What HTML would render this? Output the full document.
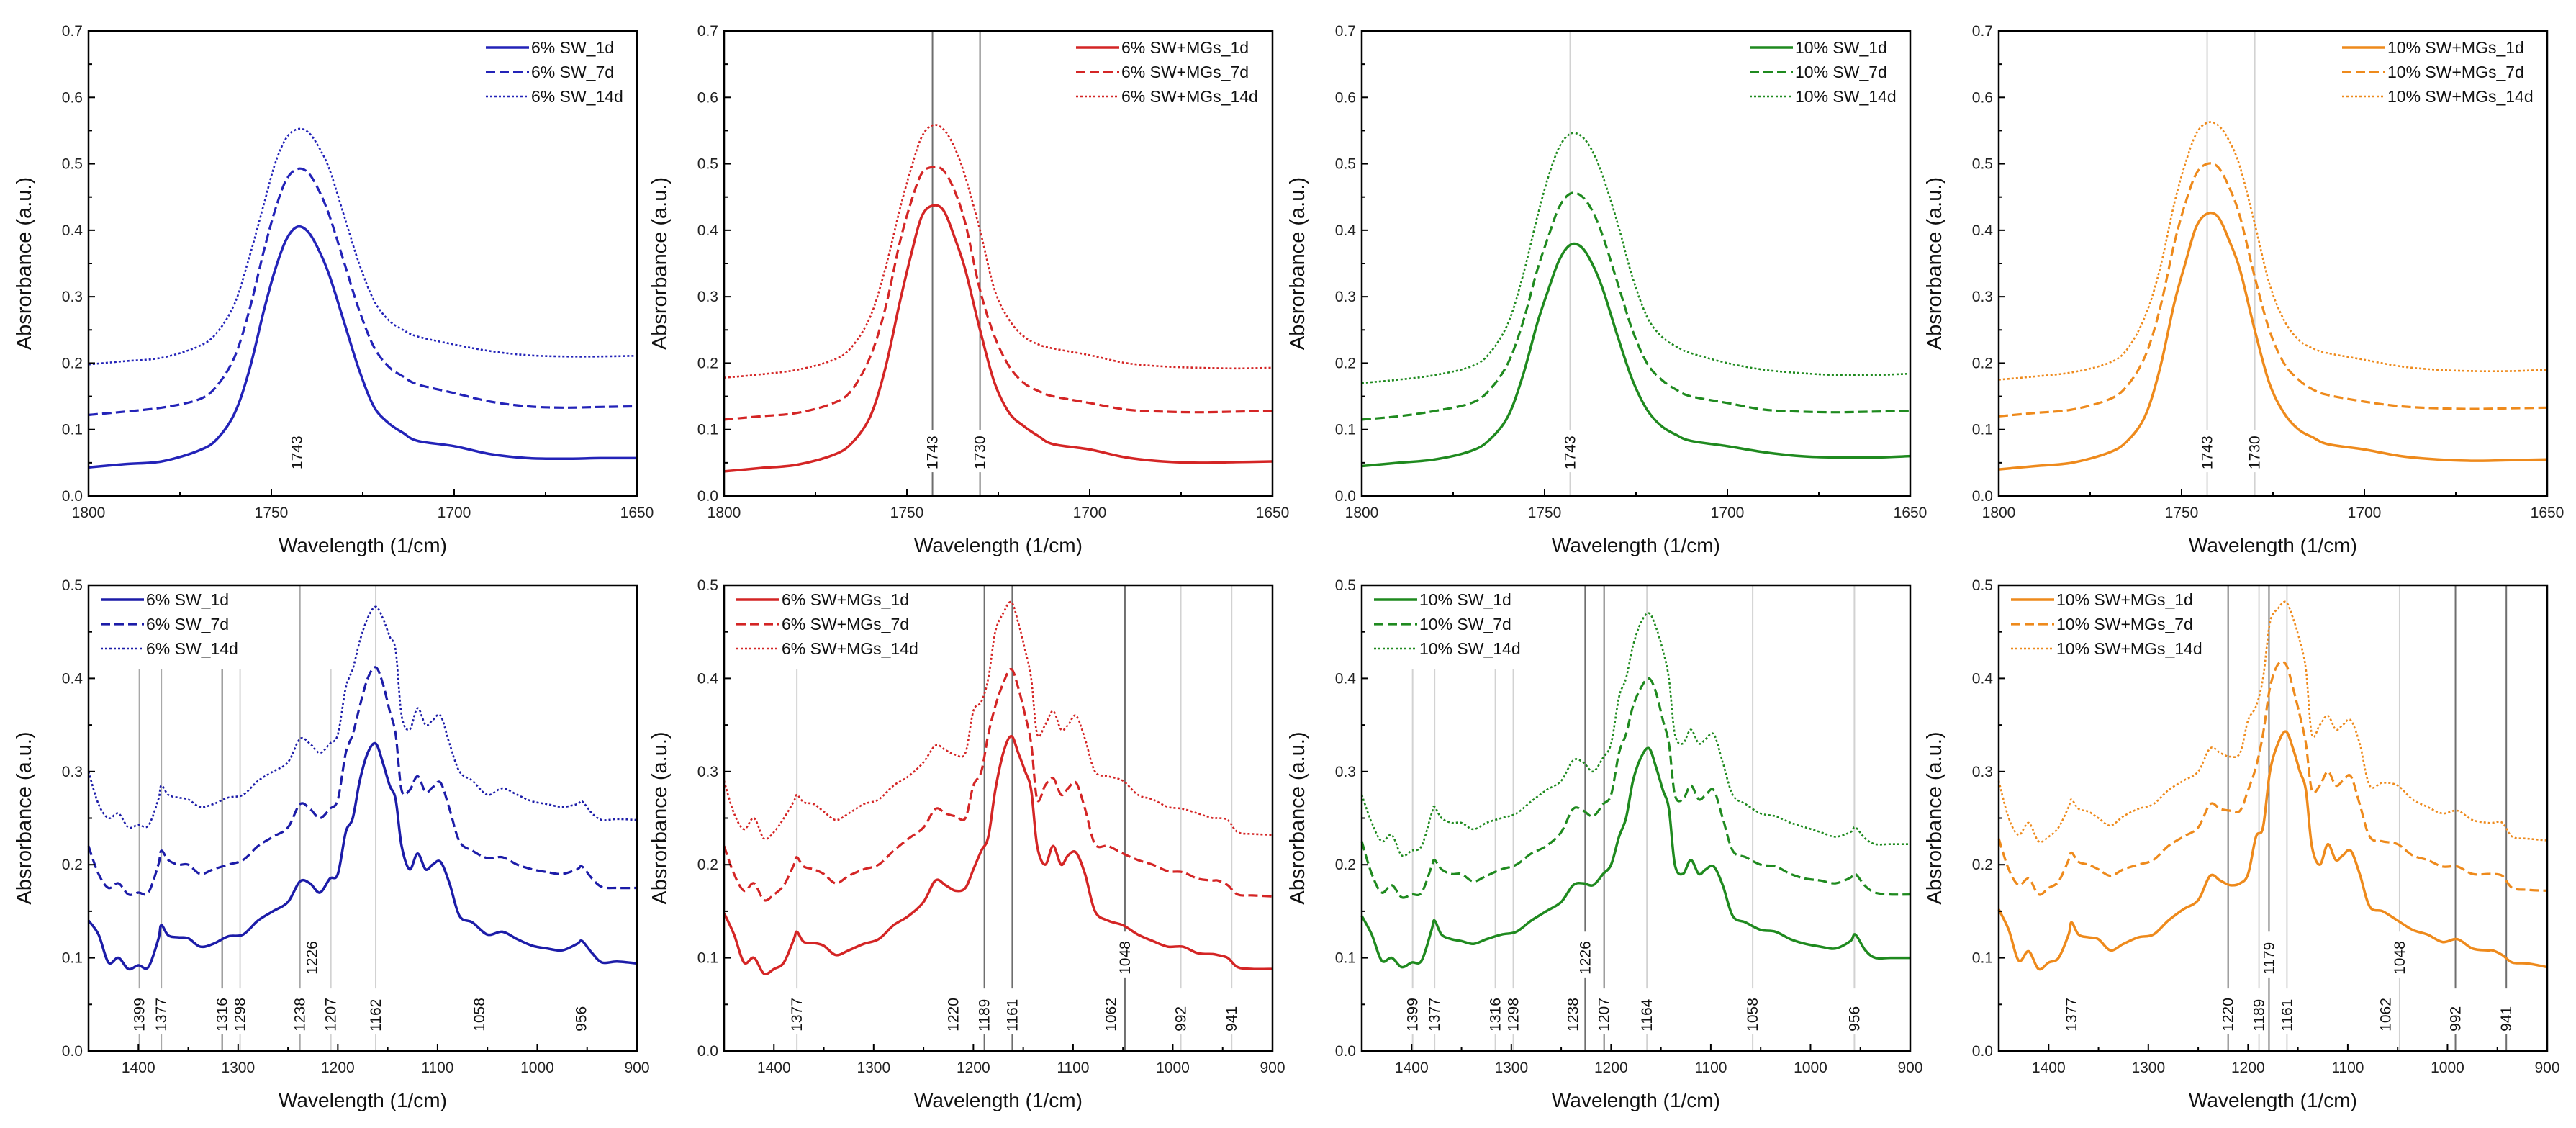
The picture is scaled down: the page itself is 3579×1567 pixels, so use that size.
<!DOCTYPE html>
<html><head><meta charset="utf-8">
<style>
html,body{margin:0;padding:0;background:#fff;}
svg{display:block;font-family:"Liberation Sans",Arial,sans-serif;}
</style></head>
<body>
<svg id="fig" width="3579" height="1567" viewBox="0 0 3579 1567" xmlns="http://www.w3.org/2000/svg"></svg>
<script>
// ---- data ----
const topX=[1800,1790,1780,1770,1765,1760,1756,1752,1749,1746,1743,1740,1737,1734,1730,1726,1722,1718,1714,1710,1700,1690,1680,1670,1660,1650];
const botX=[1450,1440,1430,1420,1410,1400,1390,1380,1377,1370,1360,1350,1338,1325,1310,1295,1280,1265,1250,1238,1228,1218,1208,1200,1192,1185,1178,1170,1162,1155,1148,1142,1136,1128,1120,1112,1105,1097,1088,1078,1065,1050,1035,1020,1005,990,975,960,955,945,935,920,900];
const topYTicks=[0.0,0.1,0.2,0.3,0.4,0.5,0.6,0.7];
const topXTicks=[1800,1750,1700,1650];
const botYTicks=[0.0,0.1,0.2,0.3,0.4,0.5];
const botXTicks=[1400,1300,1200,1100,1000,900];

const p1_1d=[.043,.048,.052,.068,.085,.125,.19,.28,.34,.385,.405,.398,.37,.33,.26,.19,.135,.11,.095,.083,.075,.063,.057,.056,.057,.057];
const p1_7d=[.122,.127,.133,.145,.165,.21,.28,.37,.43,.475,.492,.487,.46,.42,.35,.28,.225,.195,.18,.168,.155,.142,.135,.133,.134,.135];
const p1_14d=[.198,.203,.208,.225,.245,.29,.36,.44,.50,.538,.552,.548,.525,.49,.42,.35,.295,.265,.25,.24,.228,.218,.212,.21,.21,.211];
const p2_1d=[.037,.042,.047,.062,.08,.12,.19,.29,.36,.42,.437,.43,.39,.34,.25,.17,.125,.105,.09,.078,.07,.058,.052,.05,.051,.052];
const p2_7d=[.115,.12,.125,.14,.16,.21,.28,.38,.44,.485,.495,.49,.46,.41,.31,.24,.195,.17,.158,.15,.14,.13,.127,.126,.127,.128];
const p2_14d=[.178,.183,.19,.205,.225,.27,.34,.43,.49,.54,.558,.552,.525,.48,.40,.31,.265,.24,.228,.222,.212,.2,.195,.193,.192,.193];
const p3_1d=[.045,.05,.055,.068,.085,.12,.18,.26,.31,.355,.378,.375,.35,.31,.24,.175,.13,.105,.092,.083,.075,.066,.06,.058,.058,.06];
const p3_7d=[.115,.12,.128,.14,.16,.2,.26,.34,.39,.435,.455,.452,.43,.39,.32,.25,.2,.175,.16,.15,.14,.13,.127,.126,.127,.128];
const p3_14d=[.17,.175,.182,.195,.215,.26,.33,.42,.48,.525,.545,.542,.52,.48,.41,.33,.27,.24,.225,.215,.2,.19,.185,.182,.182,.184];
const p4_1d=[.04,.045,.05,.065,.082,.12,.19,.29,.35,.405,.425,.42,.385,.34,.25,.17,.125,.1,.088,.078,.07,.06,.055,.053,.054,.055];
const p4_7d=[.12,.125,.13,.145,.165,.21,.28,.38,.44,.485,.5,.495,.465,.42,.33,.25,.2,.175,.16,.152,.142,.135,.132,.131,.132,.133];
const p4_14d=[.175,.18,.186,.2,.22,.27,.34,.44,.5,.545,.562,.558,.535,.495,.41,.32,.265,.235,.222,.215,.205,.195,.19,.188,.188,.19];

const p5_1d=[0.14,0.125,0.095,0.1,0.088,0.092,0.09,0.12,0.135,0.124,0.122,0.121,0.112,0.115,0.123,0.125,0.14,0.15,0.16,0.182,0.18,0.17,0.185,0.19,0.235,0.25,0.29,0.32,0.33,0.31,0.285,0.27,0.22,0.195,0.212,0.195,0.2,0.203,0.18,0.145,0.138,0.125,0.128,0.12,0.113,0.11,0.108,0.115,0.118,0.105,0.095,0.096,0.094];
const p5_7d=[0.22,0.19,0.175,0.18,0.168,0.17,0.17,0.2,0.215,0.205,0.2,0.2,0.19,0.195,0.2,0.205,0.22,0.23,0.24,0.265,0.26,0.25,0.26,0.27,0.32,0.34,0.37,0.4,0.412,0.395,0.365,0.34,0.28,0.28,0.295,0.278,0.283,0.288,0.26,0.225,0.215,0.207,0.208,0.2,0.195,0.192,0.19,0.195,0.198,0.185,0.176,0.175,0.175];
const p5_14d=[0.3,0.265,0.25,0.255,0.24,0.243,0.242,0.27,0.285,0.275,0.272,0.27,0.262,0.265,0.272,0.275,0.29,0.3,0.31,0.335,0.33,0.32,0.33,0.34,0.39,0.41,0.44,0.465,0.477,0.465,0.445,0.43,0.36,0.345,0.368,0.35,0.355,0.36,0.33,0.3,0.29,0.275,0.282,0.275,0.268,0.265,0.262,0.265,0.268,0.255,0.248,0.249,0.248];
const p6_1d=[0.148,0.125,0.095,0.1,0.083,0.088,0.095,0.12,0.128,0.117,0.116,0.113,0.103,0.108,0.115,0.12,0.135,0.145,0.16,0.183,0.178,0.172,0.175,0.195,0.215,0.23,0.28,0.32,0.338,0.32,0.3,0.28,0.22,0.2,0.22,0.2,0.21,0.213,0.19,0.15,0.14,0.135,0.125,0.118,0.112,0.112,0.105,0.104,0.103,0.1,0.09,0.088,0.088];
const p6_7d=[0.22,0.19,0.172,0.18,0.162,0.168,0.178,0.2,0.208,0.198,0.195,0.19,0.18,0.188,0.195,0.2,0.215,0.228,0.24,0.26,0.255,0.252,0.25,0.285,0.3,0.34,0.37,0.395,0.41,0.39,0.36,0.33,0.27,0.285,0.293,0.275,0.282,0.288,0.26,0.222,0.22,0.212,0.205,0.2,0.193,0.192,0.185,0.183,0.183,0.178,0.168,0.167,0.166];
const p6_14d=[0.29,0.255,0.238,0.25,0.228,0.235,0.25,0.268,0.275,0.267,0.265,0.257,0.248,0.255,0.265,0.27,0.285,0.295,0.31,0.328,0.323,0.318,0.32,0.365,0.375,0.4,0.45,0.47,0.482,0.46,0.43,0.4,0.34,0.35,0.365,0.345,0.35,0.36,0.335,0.3,0.295,0.29,0.275,0.27,0.262,0.26,0.255,0.25,0.25,0.248,0.235,0.233,0.232];
const p7_1d=[0.145,0.125,0.097,0.1,0.09,0.095,0.097,0.13,0.14,0.125,0.12,0.118,0.115,0.12,0.125,0.128,0.14,0.15,0.16,0.178,0.18,0.178,0.19,0.2,0.23,0.25,0.29,0.315,0.325,0.305,0.28,0.26,0.2,0.19,0.205,0.19,0.195,0.198,0.178,0.145,0.138,0.13,0.128,0.12,0.115,0.112,0.11,0.118,0.125,0.108,0.1,0.1,0.1];
const p7_7d=[0.225,0.19,0.17,0.178,0.165,0.168,0.17,0.198,0.205,0.195,0.19,0.19,0.182,0.188,0.195,0.2,0.212,0.22,0.235,0.26,0.258,0.252,0.265,0.275,0.32,0.34,0.37,0.39,0.4,0.385,0.355,0.33,0.275,0.27,0.285,0.27,0.275,0.28,0.25,0.215,0.208,0.2,0.198,0.19,0.185,0.183,0.18,0.186,0.19,0.177,0.17,0.168,0.168];
const p7_14d=[0.275,0.245,0.225,0.232,0.21,0.215,0.22,0.255,0.262,0.25,0.245,0.245,0.238,0.245,0.25,0.255,0.268,0.28,0.29,0.312,0.31,0.3,0.315,0.33,0.38,0.4,0.435,0.46,0.47,0.455,0.43,0.4,0.34,0.33,0.345,0.33,0.335,0.34,0.31,0.275,0.265,0.255,0.252,0.245,0.24,0.235,0.23,0.235,0.24,0.228,0.222,0.222,0.222];
const p8_1d=[0.152,0.13,0.097,0.107,0.088,0.095,0.1,0.125,0.138,0.125,0.122,0.12,0.108,0.115,0.122,0.125,0.14,0.152,0.162,0.188,0.183,0.178,0.18,0.19,0.23,0.24,0.3,0.33,0.343,0.325,0.3,0.28,0.22,0.2,0.222,0.205,0.21,0.215,0.19,0.155,0.15,0.14,0.13,0.125,0.117,0.12,0.11,0.108,0.108,0.103,0.095,0.094,0.09];
const p8_7d=[0.228,0.195,0.178,0.185,0.168,0.175,0.182,0.205,0.213,0.203,0.2,0.195,0.188,0.195,0.2,0.205,0.22,0.23,0.24,0.265,0.26,0.258,0.258,0.28,0.305,0.34,0.39,0.415,0.415,0.39,0.36,0.33,0.28,0.285,0.3,0.285,0.29,0.295,0.265,0.23,0.225,0.222,0.21,0.205,0.198,0.198,0.19,0.19,0.19,0.188,0.175,0.173,0.172];
const p8_14d=[0.29,0.25,0.232,0.245,0.225,0.23,0.24,0.262,0.27,0.26,0.257,0.25,0.242,0.252,0.26,0.265,0.28,0.29,0.3,0.325,0.32,0.316,0.32,0.355,0.37,0.4,0.46,0.475,0.482,0.465,0.44,0.41,0.34,0.35,0.36,0.345,0.35,0.355,0.33,0.285,0.288,0.285,0.27,0.262,0.255,0.258,0.248,0.245,0.245,0.245,0.23,0.228,0.226];

// marker wavenumbers / labels
const m1=[1743];
const m2=[1743,1730];
const m3=[1743];
const m4=[1743,1730];
const m5=[1399,1377,1316,1298,1238,1226,1207,1162,1058,956];
const m6=[1377,1220,1189,1161,1062,1048,992,941];
const m7=[1399,1377,1316,1298,1238,1226,1207,1164,1058,956];
const m8=[1377,1220,1189,1179,1161,1062,1048,992,941];

const BLUE='#2323b8',RED='#d42525',GREEN='#1f8a1f',ORANGE='#ee8a1c';
const DARK='#6e6e6e',LIGHT='#d2d2d2',MID='#a8a8a8';
const panels=[
 {id:'p1',x:123,y:43,w:762,h:646,xr:[1800,1650],yr:[0,0.7],top:true,color:BLUE,names:['6% SW_1d','6% SW_7d','6% SW_14d'],series:[p1_1d,p1_7d,p1_14d],marks:m1,mstyle:['none'],legX:-147},
 {id:'p2',x:1006,y:43,w:762,h:646,xr:[1800,1650],yr:[0,0.7],top:true,color:RED,names:['6% SW+MGs_1d','6% SW+MGs_7d','6% SW+MGs_14d'],series:[p2_1d,p2_7d,p2_14d],marks:m2,mstyle:[DARK,DARK],legX:-210},
 {id:'p3',x:1892,y:43,w:762,h:646,xr:[1800,1650],yr:[0,0.7],top:true,color:GREEN,names:['10% SW_1d','10% SW_7d','10% SW_14d'],series:[p3_1d,p3_7d,p3_14d],marks:m3,mstyle:[LIGHT],legX:-160},
 {id:'p4',x:2777,y:43,w:762,h:646,xr:[1800,1650],yr:[0,0.7],top:true,color:ORANGE,names:['10% SW+MGs_1d','10% SW+MGs_7d','10% SW+MGs_14d'],series:[p4_1d,p4_7d,p4_14d],marks:m4,mstyle:[LIGHT,LIGHT],legX:-222},
 {id:'p5',x:123,y:813,w:762,h:647,xr:[1450,900],yr:[0,0.5],top:false,color:'#1c1ca8',names:['6% SW_1d','6% SW_7d','6% SW_14d'],series:[p5_1d,p5_7d,p5_14d],marks:m5,
   mstyle:[MID,MID,DARK,LIGHT,MID,'none',LIGHT,LIGHT,'none','none'],mtop:[0.41,0.41,0.41,0.41,0.5,0,0.41,0.5,0,0],raise:[0,0,0,0,0,1,0,0,0,0],legX:15},
 {id:'p6',x:1006,y:813,w:762,h:647,xr:[1450,900],yr:[0,0.5],top:false,color:RED,names:['6% SW+MGs_1d','6% SW+MGs_7d','6% SW+MGs_14d'],series:[p6_1d,p6_7d,p6_14d],marks:m6,
   mstyle:[LIGHT,'none',DARK,DARK,'none',DARK,LIGHT,LIGHT],mtop:[0.41,0,0.5,0.5,0,0.5,0.5,0.5],raise:[0,0,0,0,0,1,0,0],legX:15},
 {id:'p7',x:1892,y:813,w:762,h:647,xr:[1450,900],yr:[0,0.5],top:false,color:GREEN,names:['10% SW_1d','10% SW_7d','10% SW_14d'],series:[p7_1d,p7_7d,p7_14d],marks:m7,
   mstyle:[LIGHT,LIGHT,LIGHT,LIGHT,'none',DARK,DARK,LIGHT,LIGHT,LIGHT],mtop:[0.41,0.41,0.41,0.41,0,0.5,0.5,0.5,0.5,0.5],raise:[0,0,0,0,0,1,0,0,0,0],legX:15},
 {id:'p8',x:2777,y:813,w:762,h:647,xr:[1450,900],yr:[0,0.5],top:false,color:ORANGE,names:['10% SW+MGs_1d','10% SW+MGs_7d','10% SW+MGs_14d'],series:[p8_1d,p8_7d,p8_14d],marks:m8,
   mstyle:['none',DARK,LIGHT,DARK,LIGHT,'none',LIGHT,DARK,DARK],mtop:[0,0.5,0.5,0.5,0.5,0,0.5,0.5,0.5],raise:[0,0,0,1,0,0,1,0,0],legX:15}
];

const NS='http://www.w3.org/2000/svg';
const svg=document.getElementById('fig');
function mk(tag,attrs,parent){const e=document.createElementNS(NS,tag);for(const k in attrs)e.setAttribute(k,attrs[k]);parent.appendChild(e);return e;}
function smoothPath(P){
  let d='M'+P[0][0].toFixed(1)+','+P[0][1].toFixed(1);
  for(let i=0;i<P.length-1;i++){
    const p0=P[i>0?i-1:i],p1=P[i],p2=P[i+1],p3=P[i+2<P.length?i+2:i+1];
    const c1x=p1[0]+(p2[0]-p0[0])/6,c1y=p1[1]+(p2[1]-p0[1])/6;
    const c2x=p2[0]-(p3[0]-p1[0])/6,c2y=p2[1]-(p3[1]-p1[1])/6;
    d+=` C${c1x.toFixed(1)},${c1y.toFixed(1)} ${c2x.toFixed(1)},${c2y.toFixed(1)} ${p2[0].toFixed(1)},${p2[1].toFixed(1)}`;
  }
  return d;
}

panels.forEach((P,pi)=>{
  const g=mk('g',{},svg);
  
  
  const X=v=>P.x+(v-P.xr[0])/(P.xr[1]-P.xr[0])*P.w;
  const Y=v=>P.y+P.h-(v-P.yr[0])/(P.yr[1]-P.yr[0])*P.h;
  const xs=P.top?topX:botX;
  const yTicks=P.top?topYTicks:botYTicks;
  const xTicks=P.top?topXTicks:botXTicks;

  P.marks.forEach((m,i)=>{
    const st=P.mstyle[i];
    const raise=P.raise?P.raise[i]:0;
    const lblBottom=P.top?0.04:(raise?0.082:0.021);
    const lblTopV=P.top?0.095:(raise?0.125:0.064);
    if(st!=='none'){
      const topV=P.mtop?P.mtop[i]:P.yr[1];
      const l1=mk('line',{x1:X(m),x2:X(m),y1:Y(topV),y2:Y(lblTopV)-4,stroke:st,'stroke-width':2},g);
      
      
      const l2=mk('line',{x1:X(m),x2:X(m),y1:Y(lblBottom)+4,y2:Y(0),stroke:st,'stroke-width':2},g);
      
      
    }
    const tx=X(m)+7, ty=Y(lblBottom);
    const t=mk('text',{x:tx,y:ty,transform:`rotate(-90 ${tx} ${ty})`,'font-size':21,fill:'#111'},g);
    t.textContent=String(m);
    
    
  });

  const dash=[null,'13,6','3,3'];
  const widths=[3.5,3.2,2.6];
  P.series.forEach((arr,si)=>{
    const pts=arr.map((v,k)=>[X(xs[k]),Y(v)]);
    const a={d:smoothPath(pts),fill:'none',stroke:P.color,'stroke-width':widths[si],'stroke-linejoin':'round'};
    if(dash[si])a['stroke-dasharray']=dash[si];
    const pl=mk('path',a,g);
    
    
  });

  const fr=mk('rect',{x:P.x,y:P.y,width:P.w,height:P.h,fill:'none',stroke:'#000','stroke-width':2.5},g);
  
  
  const bx=mk('line',{x1:P.x,x2:P.x+P.w,y1:P.y+P.h,y2:P.y+P.h,stroke:'#000','stroke-width':3.5},g);
  
  

  const ystep=yTicks[1]-yTicks[0];
  yTicks.forEach((v,i)=>{
    mk('line',{x1:P.x,x2:P.x+9,y1:Y(v),y2:Y(v),stroke:'#000','stroke-width':2},g);
    if(i<yTicks.length-1){mk('line',{x1:P.x,x2:P.x+5,y1:Y(v+ystep/2),y2:Y(v+ystep/2),stroke:'#000','stroke-width':2},g);}
    const t=mk('text',{x:P.x-8,y:Y(v)+7,'text-anchor':'end','font-size':21,fill:'#222'},g);
    t.textContent=v.toFixed(1);
    
    
  });
  const xstep=xTicks[1]-xTicks[0];
  xTicks.forEach((v,i)=>{
    mk('line',{x1:X(v),x2:X(v),y1:P.y+P.h,y2:P.y+P.h-10,stroke:'#000','stroke-width':2},g);
    const half=v-xstep/2;
    if(half<=P.xr[0]+0.001 && half>=P.xr[1]) mk('line',{x1:X(half),x2:X(half),y1:P.y+P.h,y2:P.y+P.h-6,stroke:'#000','stroke-width':2},g);
    const t=mk('text',{x:X(v),y:P.y+P.h+30,'text-anchor':'middle','font-size':21,fill:'#222'},g);
    t.textContent=String(v);
    
    
  });

  const xt=mk('text',{x:P.x+P.w/2,y:P.y+P.h+78,'text-anchor':'middle','font-size':28,fill:'#111'},g);
  xt.textContent='Wavelength (1/cm)';
  
  
  const ax=P.x-80, ay=P.y+P.h/2;
  const yt=mk('text',{x:ax,y:ay,'text-anchor':'middle','font-size':29,fill:'#111',transform:`rotate(-90 ${ax} ${ay})`},g);
  yt.textContent='Absrorbance (a.u.)';
  
  

  const lg=mk('g',{},g);
  
  
  const tx0=P.top?P.x+P.w+P.legX:P.x+P.legX+65;
  const ly0=P.top?P.y+23:P.y+20;
  P.names.forEach((n,si)=>{
    const yy=ly0+si*34;
    const a={x1:tx0-63,x2:tx0-3,y1:yy,y2:yy,stroke:P.color,'stroke-width':widths[si]};
    if(dash[si])a['stroke-dasharray']=dash[si];
    const ll=mk('line',a,lg);
    
    
    const t=mk('text',{x:tx0,y:yy+8,'font-size':23,fill:'#111'},lg);
    t.textContent=n;
    
    
  });
});
</script>
</body></html>
